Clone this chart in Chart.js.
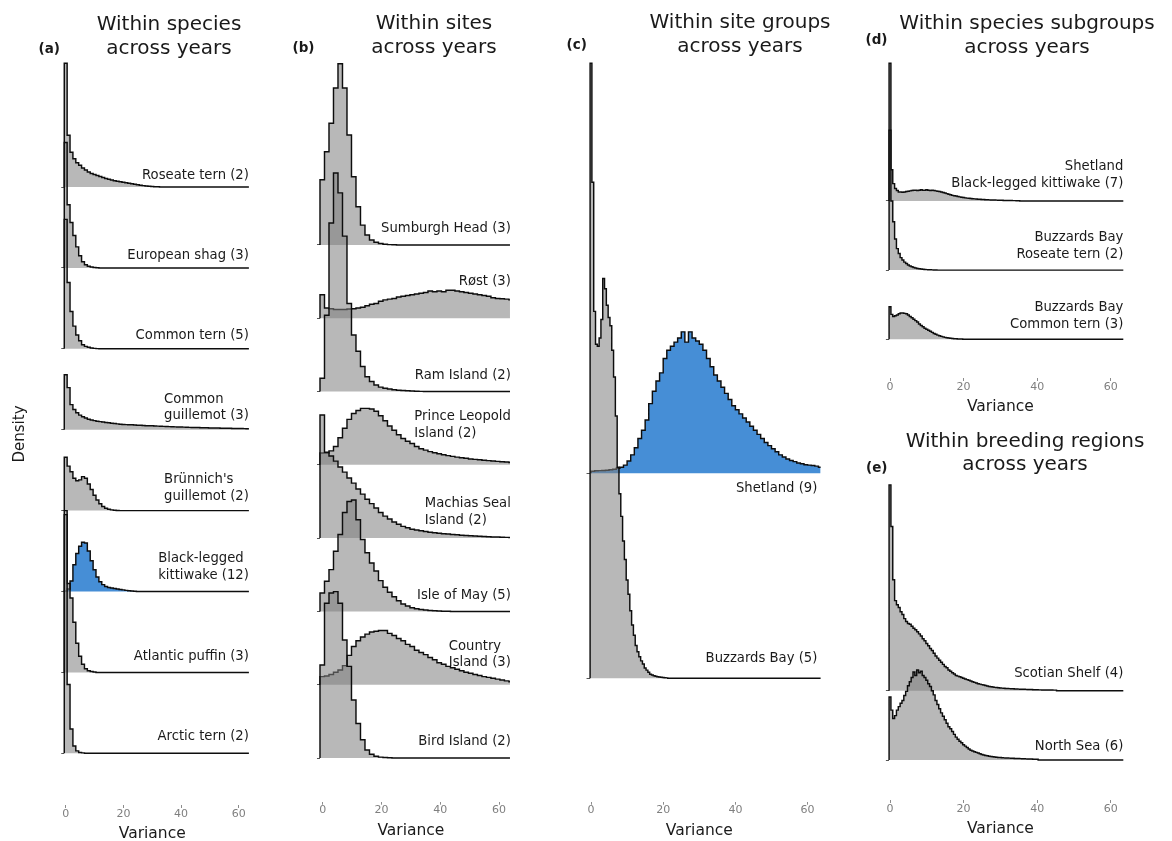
<!DOCTYPE html>
<html><head><meta charset="utf-8">
<script src="https://cdn.jsdelivr.net/npm/chart.js@4.4.1/dist/chart.umd.min.js"></script>
<style>
html,body{margin:0;padding:0;background:#fff;}
#wrap{position:relative;width:1172px;height:841px;overflow:hidden;background:#fff;}
#wrap canvas{position:absolute;left:0;top:0;}
</style></head><body>
<div id="wrap">
<canvas id="ca" width="1172" height="841"></canvas>
<canvas id="cb" width="1172" height="841"></canvas>
<canvas id="cc" width="1172" height="841"></canvas>
<canvas id="cd" width="1172" height="841"></canvas>
<canvas id="ce" width="1172" height="841"></canvas>
</div>
<script>
// ================= DATA =================
const xTicks = [0, 20, 40, 60];
const xTitle = 'Variance';
const yTitle = 'Density';

// (a) Within species across years  (bins of width 1, first bin from -0.5)
const titleA = ['Within species', 'across years'];
const namesA = [['Arctic tern (2)'], ['Atlantic puffin (3)'], ['Black-legged', 'kittiwake (12)'], ["Brünnich's", 'guillemot (2)'], ['Common', 'guillemot (3)'], ['Common tern (5)'], ['European shag (3)'], ['Roseate tern (2)']];
const arcticTern = [2.95, 0.85, 0.30, 0.09, 0.03, 0.01, 0.005];
const atlanticPuffin = [2.00, 1.10, 0.92, 0.62, 0.36, 0.20, 0.10, 0.045, 0.02, 0.01, 0.005];
const kittiwakeA = [0.005, 0.03, 0.13, 0.33, 0.47, 0.56, 0.61, 0.60, 0.50, 0.38, 0.27, 0.18, 0.12, 0.085, 0.062, 0.05, 0.043, 0.036, 0.03, 0.025, 0.02, 0.014, 0.01, 0.006, 0.003];
const brunnichGuillemot = [0.66, 0.55, 0.48, 0.40, 0.37, 0.38, 0.42, 0.40, 0.33, 0.26, 0.19, 0.13, 0.085, 0.05, 0.03, 0.017, 0.009, 0.004, 0.002];
const commonGuillemot = [0.68, 0.52, 0.31, 0.25, 0.21, 0.18, 0.16, 0.145, 0.13, 0.12,
  0.112, 0.105, 0.10, 0.094, 0.09, 0.085, 0.08, 0.076, 0.072, 0.068,
  0.065, 0.063, 0.062, 0.061, 0.058, 0.056, 0.054, 0.052, 0.05, 0.049,
  0.048, 0.046, 0.044, 0.043, 0.041, 0.04, 0.038, 0.036, 0.035, 0.034,
  0.033, 0.032, 0.03, 0.029, 0.028, 0.027, 0.026, 0.025, 0.024, 0.023,
  0.022, 0.021, 0.02, 0.02, 0.019, 0.018, 0.018, 0.017, 0.016, 0.015,
  0.015, 0.014, 0.013, 0.012];
const commonTernA = [1.60, 0.82, 0.46, 0.28, 0.17, 0.10, 0.05, 0.03, 0.02, 0.01, 0.005, 0.002];
const europeanShag = [1.55, 0.78, 0.56, 0.40, 0.26, 0.15, 0.075, 0.04, 0.02, 0.01, 0.005, 0.002];
const roseateTernA = [1.53, 0.64, 0.43, 0.35, 0.30, 0.27, 0.235, 0.21, 0.185, 0.167,
  0.155, 0.142, 0.13, 0.117, 0.105, 0.095, 0.087, 0.078, 0.072, 0.066,
  0.058, 0.052, 0.046, 0.04, 0.033, 0.027, 0.022, 0.017, 0.012, 0.009,
  0.005, 0.003, 0.002];

// (b) Within sites across years  (bins of width 1.53, first bin from -0.92)
const titleB = ['Within sites', 'across years'];
const namesB = [['Bird Island (2)'], ['Country', 'Island (3)'], ['Isle of May (5)'], ['Machias Seal', 'Island (2)'], ['Prince Leopold', 'Island (2)'], ['Ram Island (2)'], ['Røst (3)'], ['Sumburgh Head (3)']];
const birdIsland = [1.27, 2.11, 2.25, 2.27, 2.11, 1.61, 1.25, 0.79, 0.47, 0.25, 0.11, 0.05, 0.025, 0.012, 0.006, 0.003];
const countryIsland = [0.11, 0.12, 0.14, 0.17, 0.20, 0.26, 0.40, 0.52, 0.60, 0.65,
  0.69, 0.72, 0.73, 0.74, 0.74, 0.70, 0.67, 0.63, 0.60, 0.55,
  0.52, 0.47, 0.44, 0.41, 0.37, 0.34, 0.30, 0.28, 0.25, 0.23,
  0.21, 0.19, 0.17, 0.155, 0.14, 0.125, 0.11, 0.10, 0.088, 0.076,
  0.064, 0.052, 0.04];
const isleOfMay = [0.25, 0.41, 0.57, 0.82, 1.05, 1.35, 1.50, 1.52, 1.25, 0.98,
  0.80, 0.66, 0.55, 0.42, 0.33, 0.26, 0.20, 0.145, 0.10, 0.075,
  0.05, 0.035, 0.025, 0.018, 0.012, 0.008, 0.005, 0.003, 0.002];
const machiasSeal = [1.68, 1.17, 1.12, 1.05, 0.97, 0.90, 0.82, 0.75, 0.67, 0.60,
  0.53, 0.47, 0.41, 0.35, 0.30, 0.26, 0.22, 0.19, 0.16, 0.14,
  0.12, 0.11, 0.10, 0.09, 0.08, 0.072, 0.066, 0.06, 0.055, 0.05,
  0.045, 0.04, 0.036, 0.032, 0.028, 0.024, 0.021, 0.018, 0.016, 0.014,
  0.012, 0.01, 0.009];
const princeLeopold = [0.16, 0.16, 0.19, 0.25, 0.37, 0.50, 0.62, 0.70, 0.74, 0.77,
  0.77, 0.76, 0.73, 0.67, 0.60, 0.53, 0.47, 0.41, 0.36, 0.32,
  0.29, 0.25, 0.22, 0.20, 0.18, 0.165, 0.15, 0.137, 0.125, 0.115,
  0.105, 0.095, 0.088, 0.08, 0.074, 0.068, 0.062, 0.057, 0.052, 0.047,
  0.042, 0.037, 0.032];
const ramIsland = [0.18, 1.04, 2.30, 2.98, 2.71, 2.12, 1.20, 0.77, 0.55, 0.34,
  0.20, 0.136, 0.09, 0.06, 0.045, 0.035, 0.025, 0.018, 0.013, 0.009, 0.006, 0.004, 0.002];
const rost = [0.32, 0.14, 0.13, 0.12, 0.12, 0.12, 0.125, 0.13, 0.14, 0.15,
  0.17, 0.19, 0.20, 0.23, 0.25, 0.26, 0.27, 0.29, 0.30, 0.31,
  0.32, 0.33, 0.34, 0.35, 0.37, 0.36, 0.37, 0.36, 0.38, 0.38,
  0.37, 0.36, 0.35, 0.34, 0.33, 0.32, 0.31, 0.30, 0.28, 0.27,
  0.265, 0.26, 0.25];
const sumburghHead = [0.89, 1.27, 1.66, 2.14, 2.47, 2.14, 1.50, 0.93, 0.52, 0.27, 0.136, 0.068, 0.035, 0.018, 0.009, 0.004, 0.002];

// (c) Within site groups across years
const titleC = ['Within site groups', 'across years'];
const namesC = [['Buzzards Bay (5)'], ['Shetland (9)']];
// bins of width 0.5 from -0.25
const buzzardsBayC = [3.00, 2.42, 1.79, 1.63, 1.62, 1.66, 1.75, 1.95, 1.90, 1.82,
  1.76, 1.72, 1.60, 1.47, 1.28, 1.03, 0.90, 0.79, 0.67, 0.58,
  0.48, 0.41, 0.33, 0.26, 0.21, 0.16, 0.13, 0.105, 0.085, 0.07,
  0.05, 0.04, 0.03, 0.02, 0.016, 0.012, 0.01, 0.008, 0.006, 0.005, 0.004, 0.003, 0.002];
// bins of width 1 from 0
const shetlandC = [0.01, 0.012, 0.013, 0.014, 0.015, 0.017, 0.02, 0.025, 0.03, 0.04,
  0.06, 0.09, 0.125, 0.17, 0.21, 0.26, 0.34, 0.40, 0.45, 0.49,
  0.56, 0.60, 0.62, 0.64, 0.66, 0.69, 0.64, 0.69, 0.66, 0.645,
  0.63, 0.60, 0.56, 0.52, 0.48, 0.45, 0.42, 0.39, 0.36, 0.33,
  0.31, 0.29, 0.27, 0.25, 0.23, 0.21, 0.19, 0.17, 0.15, 0.135,
  0.12, 0.105, 0.09, 0.08, 0.07, 0.062, 0.057, 0.05, 0.047, 0.042,
  0.04, 0.038, 0.035, 0.03];

// (d) Within species subgroups across years  (bins of width 0.5 from -0.25)
const titleD = ['Within species subgroups', 'across years'];
const namesD = [['Buzzards Bay', 'Common tern (3)'], ['Buzzards Bay', 'Roseate tern (2)'], ['Shetland', 'Black-legged kittiwake (7)']];
const bbCommonTern = [0.47, 0.36, 0.33, 0.34, 0.35, 0.37, 0.38, 0.38, 0.375, 0.37,
  0.35, 0.33, 0.31, 0.29, 0.27, 0.25, 0.22, 0.20, 0.18, 0.16,
  0.145, 0.13, 0.115, 0.10, 0.085, 0.072, 0.06, 0.05, 0.042, 0.035,
  0.028, 0.022, 0.018, 0.014, 0.011, 0.009, 0.007, 0.005, 0.004, 0.003, 0.002];
const bbRoseateTern = [2.02, 1.00, 0.70, 0.45, 0.31, 0.24, 0.18, 0.145, 0.115, 0.095,
  0.075, 0.06, 0.048, 0.038, 0.03, 0.024, 0.019, 0.015, 0.012, 0.009,
  0.007, 0.005, 0.004, 0.003, 0.002, 0.001];
const shetlandKittiwake = [1.99, 0.45, 0.25, 0.18, 0.15, 0.13, 0.13, 0.125, 0.13, 0.135,
  0.14, 0.145, 0.15, 0.155, 0.155, 0.15, 0.155, 0.16, 0.155, 0.155,
  0.16, 0.155, 0.15, 0.155, 0.15, 0.145, 0.14, 0.135, 0.13, 0.12,
  0.115, 0.105, 0.095, 0.088, 0.08, 0.075, 0.07, 0.064, 0.058, 0.053,
  0.048, 0.044, 0.04, 0.037, 0.034, 0.031, 0.029, 0.027, 0.025, 0.023,
  0.021, 0.019, 0.018, 0.016, 0.015, 0.014, 0.013, 0.012, 0.011, 0.01,
  0.009, 0.008, 0.007, 0.007, 0.006, 0.005, 0.005, 0.004, 0.004, 0.003, 0.003];

// (e) Within breeding regions across years  (bins of width 0.5 from -0.25)
const titleE = ['Within breeding regions', 'across years'];
const namesE = [['North Sea (6)'], ['Scotian Shelf (4)']];
const northSea = [0.91, 0.72, 0.60, 0.64, 0.72, 0.77, 0.82, 0.86, 0.93, 0.99,
  1.07, 1.13, 1.19, 1.27, 1.22, 1.30, 1.26, 1.28, 1.22, 1.19,
  1.15, 1.10, 1.06, 1.00, 0.94, 0.86, 0.80, 0.74, 0.68, 0.63,
  0.58, 0.53, 0.48, 0.45, 0.41, 0.37, 0.33, 0.30, 0.27, 0.25,
  0.22, 0.20, 0.18, 0.16, 0.14, 0.13, 0.12, 0.11, 0.10, 0.09,
  0.08, 0.072, 0.065, 0.06, 0.055, 0.05, 0.046, 0.042, 0.04, 0.037,
  0.035, 0.033, 0.031, 0.03, 0.028, 0.027, 0.026, 0.025, 0.023, 0.022,
  0.021, 0.02, 0.018, 0.017, 0.016, 0.015, 0.014, 0.013, 0.012, 0.011, 0.01];
const scotianShelf = [2.97, 2.37, 1.60, 1.30, 1.24, 1.20, 1.14, 1.10, 1.04, 1.00,
  0.97, 0.96, 0.93, 0.90, 0.88, 0.85, 0.82, 0.79, 0.75, 0.72,
  0.68, 0.65, 0.61, 0.58, 0.54, 0.50, 0.47, 0.44, 0.41, 0.38,
  0.35, 0.33, 0.30, 0.28, 0.26, 0.24, 0.22, 0.21, 0.20, 0.19,
  0.18, 0.17, 0.16, 0.15, 0.14, 0.13, 0.12, 0.11, 0.10, 0.095,
  0.088, 0.082, 0.075, 0.068, 0.062, 0.057, 0.052, 0.048, 0.045, 0.042,
  0.04, 0.037, 0.035, 0.033, 0.031, 0.03, 0.028, 0.027, 0.025, 0.024,
  0.023, 0.022, 0.021, 0.02, 0.019, 0.018, 0.017, 0.016, 0.015, 0.014,
  0.013, 0.012, 0.012, 0.011, 0.011, 0.01, 0.01, 0.009, 0.009, 0.008, 0.008];

// ================= STYLE / LAYOUT =================
const FONT = 'DejaVu Sans';
const GRAY = 'rgba(128,128,128,0.56)';
const BLUE = 'rgb(70,142,214)';
const LINE = '#0d0d0d';
const TXT = '#1a1a1a';
const XAXIS_H = 40;

Chart.defaults.font.family = FONT;

const panels = [
  { id: 'ca', x0px: 65.7, k: 2.885, xMin: -0.5, xMax: 63.6, xEnd: 63.5, base0: 753.3, rowPx: 80.9, top: 63, bottom: 805,
    yw: null, yTitle: yTitle, labelX: 63.5, align: 'left', gap: 16.7,
    title: titleA, titleX: 169, titleY: 30, letter: '(a)', letterX: 38.5, letterY: 53,
    rows: [
      { vals: arcticTern, x0: -0.5, bw: 1, names: namesA[0], lift: 13, fill: GRAY },
      { vals: atlanticPuffin, x0: -0.5, bw: 1, names: namesA[1], lift: 12.3, fill: GRAY },
      { vals: kittiwakeA, x0: -0.5, bw: 1, names: namesA[2], lift: 12.4, fill: BLUE },
      { vals: brunnichGuillemot, x0: -0.5, bw: 1, names: namesA[3], lift: 10.7, fill: GRAY },
      { vals: commonGuillemot, x0: -0.5, bw: 1, names: namesA[4], lift: 10.4, fill: GRAY },
      { vals: commonTernA, x0: -0.5, bw: 1, names: namesA[5], lift: 10, fill: GRAY },
      { vals: europeanShag, x0: -0.5, bw: 1, names: namesA[6], lift: 8.7, fill: GRAY },
      { vals: roseateTernA, x0: -0.5, bw: 1, names: namesA[7], lift: 8, fill: GRAY }
    ] },
  { id: 'cb', x0px: 322.7, k: 2.94, xMin: -0.92, xMax: 63.75, xEnd: 63.7, base0: 758, rowPx: 73.3, top: 63.3, bottom: 801.7,
    yw: 3, yTitle: null, labelX: 64.0, align: 'left', gap: 16.5,
    title: titleB, titleX: 434, titleY: 29, letter: '(b)', letterX: 292.5, letterY: 51.5,
    rows: [
      { vals: birdIsland, x0: -0.92, bw: 1.53, names: namesB[0], lift: 13, fill: GRAY },
      { vals: countryIsland, x0: -0.92, bw: 1.53, names: namesB[1], lift: 18.7, fill: GRAY },
      { vals: isleOfMay, x0: -0.92, bw: 1.53, names: namesB[2], lift: 12.7, fill: GRAY },
      { vals: machiasSeal, x0: -0.92, bw: 1.53, names: namesB[3], lift: 14.3, fill: GRAY },
      { vals: princeLeopold, x0: -0.92, bw: 1.53, names: namesB[4], lift: 28.3, fill: GRAY },
      { vals: ramIsland, x0: -0.92, bw: 1.53, names: namesB[5], lift: 12.7, fill: GRAY },
      { vals: rost, x0: -0.92, bw: 1.53, names: namesB[6], lift: 33.3, fill: GRAY },
      { vals: sumburghHead, x0: -0.92, bw: 1.53, names: namesB[7], lift: 13.3, fill: GRAY }
    ] },
  { id: 'cc', x0px: 591, k: 3.61, xMin: -0.4, xMax: 63.7, xEnd: 63.6, base0: 678.3, rowPx: 205, top: 63.3, bottom: 801.7,
    yw: 3, yTitle: null, labelX: 62.7, align: 'left', gap: 16.5,
    title: titleC, titleX: 740, titleY: 28, letter: '(c)', letterX: 566.5, letterY: 48.5,
    rows: [
      { vals: buzzardsBayC, x0: -0.25, bw: 0.5, names: namesC[0], lift: 16, fill: GRAY },
      { vals: shetlandC, x0: 0, bw: 1, names: namesC[1], lift: -19, fill: BLUE }
    ] },
  { id: 'cd', x0px: 890, k: 3.68, xMin: -0.3, xMax: 63.5, xEnd: 63.4, base0: 339.3, rowPx: 69.2, top: 63.3, bottom: 378,
    yw: 3, yTitle: null, labelX: 63.4, align: 'right', gap: 17.5,
    title: titleD, titleX: 1027, titleY: 29, letter: '(d)', letterX: 865.5, letterY: 43.5,
    rows: [
      { vals: bbCommonTern, x0: -0.25, bw: 0.5, names: namesD[0], lift: 11, fill: GRAY },
      { vals: bbRoseateTern, x0: -0.25, bw: 0.5, names: namesD[1], lift: 11.7, fill: GRAY },
      { vals: shetlandKittiwake, x0: -0.25, bw: 0.5, names: namesD[2], lift: 13.7, fill: GRAY }
    ] },
  { id: 'ce', x0px: 890, k: 3.68, xMin: -0.3, xMax: 63.5, xEnd: 63.4, base0: 760, rowPx: 69.3, top: 485, bottom: 800,
    yw: 3, yTitle: null, labelX: 63.4, align: 'right', gap: 17.5,
    title: titleE, titleX: 1025, titleY: 446.5, letter: '(e)', letterX: 866, letterY: 471.5,
    rows: [
      { vals: northSea, x0: -0.25, bw: 0.5, names: namesE[0], lift: 10, fill: GRAY },
      { vals: scotianShelf, x0: -0.25, bw: 0.5, names: namesE[1], lift: 13.4, fill: GRAY }
    ] }
];

// Build histogram outline points (left bin edges, stepped) for one ridge
function ridgePoints(vals, x0, bw, xEnd, base) {
  const pts = [{ x: x0, y: base }];
  let i = 0;
  for (; i < vals.length; i++) {
    const left = x0 + i * bw;
    if (left >= xEnd) break;
    pts.push({ x: left, y: base + vals[i] });
  }
  const right = x0 + i * bw;
  if (right >= xEnd) {
    pts.push({ x: xEnd, y: pts[pts.length - 1].y });
  } else {
    pts.push({ x: right, y: base });
    pts.push({ x: xEnd, y: base });
  }
  return pts;
}

const panelText = {
  id: 'panelText',
  afterDatasetsDraw(chart, args, o) {
    const P = o.panel;
    if (!P) return;
    const ctx = chart.ctx, xs = chart.scales.x, ys = chart.scales.y;
    ctx.save();
    ctx.fillStyle = TXT;
    ctx.font = '13.2px "' + FONT + '"';
    ctx.textBaseline = 'alphabetic';
    const right = xs.getPixelForValue(P.labelX);
    P.rows.forEach((r, i) => {
      const baseY = ys.getPixelForValue(i) - r.lift;
      const widths = r.names.map(t => ctx.measureText(t).width);
      const maxW = Math.max.apply(null, widths);
      r.names.forEach((t, j) => {
        const y = baseY - (r.names.length - 1 - j) * P.gap;
        if (P.align === 'left') { ctx.textAlign = 'left'; ctx.fillText(t, right - maxW, y); }
        else { ctx.textAlign = 'right'; ctx.fillText(t, right, y); }
      });
    });
    // x axis title centred on the middle of the variance range
    ctx.font = '15.5px "' + FONT + '"';
    ctx.textAlign = 'center';
    ctx.textBaseline = 'middle';
    ctx.fillText(xTitle, xs.getPixelForValue(30), chart.chartArea.bottom + 29);
    // panel title
    ctx.font = '20px "' + FONT + '"';
    ctx.textBaseline = 'alphabetic';
    P.title.forEach((t, j) => ctx.fillText(t, P.titleX, P.titleY + j * 23.5));
    // panel letter
    ctx.font = 'bold 13.5px "' + FONT + '"';
    ctx.textAlign = 'left';
    ctx.fillText(P.letter, P.letterX, P.letterY);
    ctx.restore();
  }
};

panels.forEach(P => {
  const areaLeft = P.x0px + P.xMin * P.k;
  const areaRight = P.x0px + P.xMax * P.k;
  const yw = P.yw === null ? areaLeft : P.yw;
  const yMax = (P.base0 - P.top) / P.rowPx;
  const yMin = (P.base0 - P.bottom) / P.rowPx;
  const datasets = P.rows.map((r, i) => ({
    data: ridgePoints(r.vals, r.x0, r.bw, P.xEnd, i),
    stepped: 'before',
    borderColor: LINE,
    borderWidth: 1.45,
    backgroundColor: r.fill,
    fill: { value: i },
    pointRadius: 0,
    pointHoverRadius: 0,
    tension: 0,
    order: i,
    clip: 3
  }));
  new Chart(document.getElementById(P.id), {
    type: 'line',
    data: { datasets },
    options: {
      responsive: false,
      animation: false,
      devicePixelRatio: 1,
      events: [],
      layout: { padding: { left: areaLeft - yw, right: 1172 - areaRight, top: P.top, bottom: 841 - P.bottom - XAXIS_H } },
      plugins: {
        legend: { display: false },
        tooltip: { enabled: false },
        title: { display: false },
        panelText: { panel: P }
      },
      scales: {
        x: {
          type: 'linear', min: P.xMin, max: P.xMax, bounds: 'data',
          afterBuildTicks: s => { s.ticks = xTicks.map(v => ({ value: v })); },
          afterFit: s => { s.height = XAXIS_H; },
          ticks: { color: '#7f7f7f', font: { family: FONT, size: 11, lineHeight: 0.8 }, padding: 1.5, maxRotation: 0, autoSkip: false, callback: v => String(v) },
          grid: { display: true, drawOnChartArea: false, drawTicks: true, tickLength: 3, color: '#8c8c8c', lineWidth: 1 },
          border: { display: false }
        },
        y: {
          type: 'linear', min: yMin, max: yMax, bounds: 'data',
          afterBuildTicks: s => { s.ticks = P.rows.map((r, i) => ({ value: i })); },
          afterFit: s => { s.width = yw; },
          ticks: { display: false },
          grid: { display: true, drawOnChartArea: false, drawTicks: true, tickLength: 3, color: '#555555', lineWidth: 1 },
          border: { display: false },
          title: { display: !!P.yTitle, text: P.yTitle || '', color: TXT, font: { family: FONT, size: 15 }, padding: { top: 11, bottom: 0 } }
        }
      }
    },
    plugins: [panelText]
  });
});
</script>
</body></html>
